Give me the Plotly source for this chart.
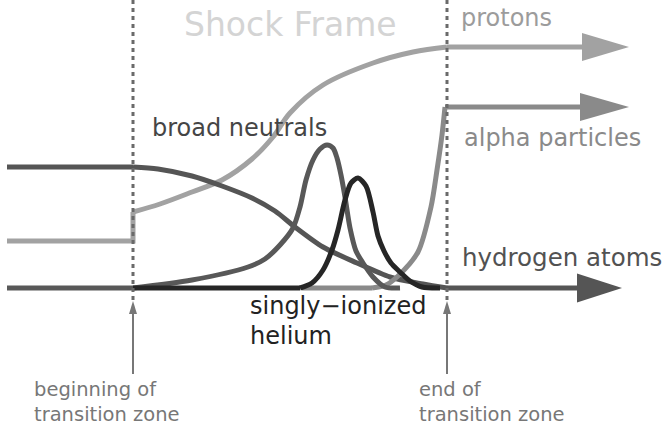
import plotly.graph_objects as go

# ---------------- data (schematic positions along the shock, picture units) ----------------
transition_x = [133, 447]          # beginning / end of transition zone

protons_x = [7, 133, 133, 160, 192, 222, 252, 273, 290, 323, 373, 413, 447, 629]
protons_y = [241, 241, 212, 204, 192, 180, 159, 137, 113, 85, 63, 52, 47, 47]

alpha_x = [302, 372, 386, 398, 418, 431, 437, 442, 445, 629]
alpha_y = [288, 288, 285, 276, 252, 207, 170, 135, 107, 107]

hydrogen_x = [7, 133, 158, 192, 222, 252, 275, 295, 323, 357, 390, 423, 447, 622]
hydrogen_y = [167, 167, 169, 176, 186, 198, 211, 227, 247, 263, 277, 284, 288, 288]

neutrals_x = [7, 133, 192, 248, 265, 280, 293, 300, 306, 313, 320, 327, 333, 337, 341, 345, 350, 356, 363, 373, 385, 400]
neutrals_y = [288, 288, 280, 267, 259, 245, 228, 207, 180, 160, 149, 145, 148, 158, 175, 197, 228, 251, 263, 277, 287, 288]

helium_x = [133, 300, 312, 323, 332, 338, 345, 351, 358, 366, 373, 378, 384, 391, 400, 410, 422, 440]
helium_y = [288, 288, 283, 270, 250, 230, 200, 183, 178, 186, 212, 236, 251, 263, 272, 281, 287, 288]

# ---------------- styles ----------------
FONT = "DejaVu Sans"
C_PROTON = "#a2a2a2"
C_ALPHA = "#8a8a8a"
C_HYDRO = "#555555"
C_NEUT = "#585858"
C_HEL = "#262626"
C_DOT = "#6a6a6a"
C_SMALL = "#777777"
LW = 5
HEAD_LEN, HEAD_HALF = 47, 14

fig = go.Figure()


def line(xs, ys, color, shape="linear", width=LW, dash=None, smoothing=1):
    fig.add_trace(go.Scatter(x=xs, y=ys, mode="lines",
                             line=dict(color=color, width=width, shape=shape, smoothing=smoothing, dash=dash),
                             hoverinfo="skip", showlegend=False))


def right_arrow(xs, ys, color, head_len=HEAD_LEN, half=HEAD_HALF):
    tip_x, y = xs[-1], ys[-1]
    line([xs[0], tip_x - head_len + 2], [ys[0], y], color)
    fig.add_trace(go.Scatter(x=[tip_x - head_len, tip_x, tip_x - head_len, tip_x - head_len],
                             y=[y - half, y, y + half, y - half],
                             mode="lines", fill="toself", fillcolor=color,
                             line=dict(width=0, color=color), hoverinfo="skip", showlegend=False))


# protons (drawn first)
line(protons_x[:3], protons_y[:3], C_PROTON)
line(protons_x[2:-1], protons_y[2:-1], C_PROTON, shape="spline")
right_arrow(protons_x[-2:], protons_y[-2:], C_PROTON)

# hydrogen atoms
line(hydrogen_x[:2], hydrogen_y[:2], C_HYDRO)
line(hydrogen_x[1:-1], hydrogen_y[1:-1], C_HYDRO, shape="spline", smoothing=0.8)
right_arrow(hydrogen_x[-2:], hydrogen_y[-2:], C_HYDRO, head_len=45, half=14.5)

# alpha particles
line(alpha_x[:2], alpha_y[:2], C_ALPHA)
line(alpha_x[1:-1], alpha_y[1:-1], C_ALPHA, shape="spline", smoothing=0.8)
right_arrow(alpha_x[-2:], alpha_y[-2:], C_ALPHA, head_len=49)

# broad neutrals
line(neutrals_x[:2], neutrals_y[:2], C_NEUT)
line(neutrals_x[1:], neutrals_y[1:], C_NEUT, shape="spline", smoothing=0.8)

# singly-ionized helium
line(helium_x[:2], helium_y[:2], C_HEL)
line(helium_x[1:], helium_y[1:], C_HEL, shape="spline", smoothing=0.8)

# dotted transition boundaries and pointer arrows
for tx in transition_x:
    line([tx, tx], [0, 300], C_DOT, width=3, dash="4px,4px")
    line([tx, tx], [374, 312], C_SMALL, width=2)
    fig.add_trace(go.Scatter(x=[tx - 4, tx, tx + 4, tx - 4], y=[314, 301, 314, 314],
                             mode="lines", fill="toself", fillcolor=C_SMALL,
                             line=dict(width=0, color=C_SMALL), hoverinfo="skip", showlegend=False))

# ---------------- labels ----------------
labels = [
    # text, left x, baseline y, size, color
    ("Shock Frame", 183, 35, 33, "#d4d4d4"),
    ("protons", 460, 25, 24, "#9c9c9c"),
    ("alpha particles", 463, 145, 24, "#8a8a8a"),
    ("broad neutrals", 151, 135, 24, "#454545"),
    ("hydrogen atoms", 461, 265, 24.5, "#525252"),
    ("singly−ionized", 249, 313, 24, "#222222"),
    ("helium", 249, 343, 24, "#222222"),
    ("beginning of", 33, 395, 19.5, C_SMALL),
    ("transition zone", 33, 420, 19.5, C_SMALL),
    ("end of", 418, 395, 19.5, C_SMALL),
    ("transition zone", 418, 420, 19.5, C_SMALL),
]
for text, lx, base, size, color in labels:
    fig.add_annotation(x=lx, y=base - 0.93 * size, xref="x", yref="y", text=text,
                       showarrow=False, xanchor="left", yanchor="top", borderpad=0,
                       font=dict(family=FONT, size=size, color=color))

fig.update_layout(
    width=664, height=433,
    margin=dict(l=0, r=0, t=0, b=0),
    paper_bgcolor="white", plot_bgcolor="white",
    xaxis=dict(range=[0, 664], visible=False, fixedrange=True),
    yaxis=dict(range=[433, 0], visible=False, fixedrange=True),
    showlegend=False,
)

fig.write_html("out.html", config={"displayModeBar": False},
               post_script="document.body.style.margin='0';document.body.style.overflow='hidden';")
